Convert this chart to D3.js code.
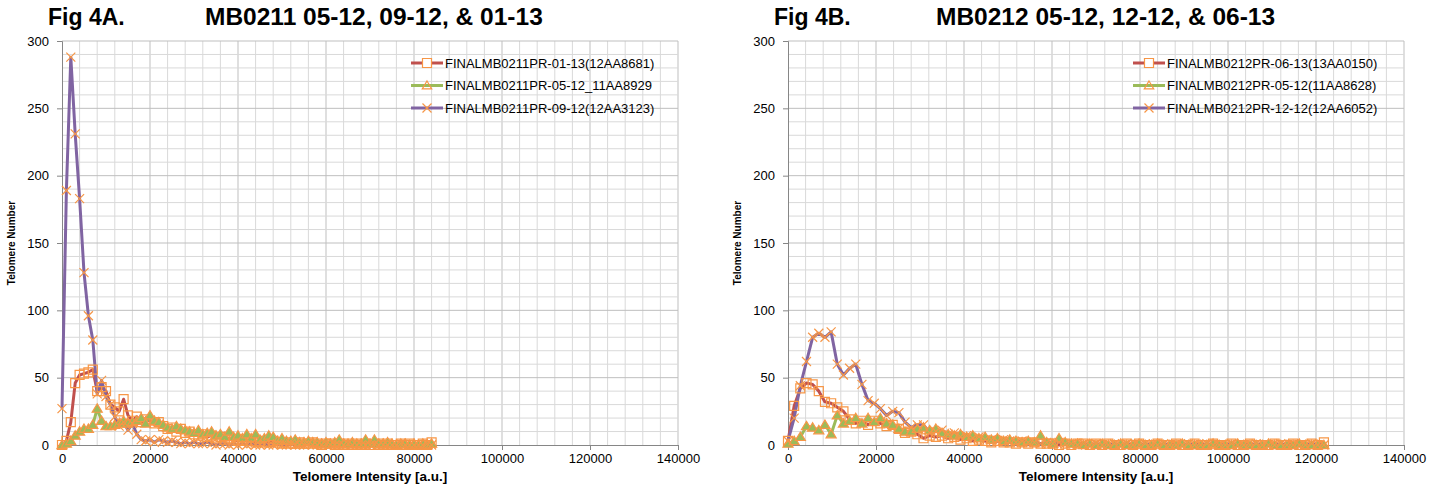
<!DOCTYPE html>
<html>
<head>
<meta charset="utf-8">
<script src="https://cdn.jsdelivr.net/npm/d3@7"></script>
<style>
body { margin: 0; background: #fff; }
svg { display: block; }
text { font-family: "Liberation Sans", Arial, sans-serif; fill: #000; }
</style>
</head>
<body>
<script>
// intensity bins (x) for each figure
var intensityA = [0,1000,2000,3000,4000,5000,6000,7000,8000,9000,10000,11000,12000,13000,14000,15000,16000,17000,18000,19000,20000,21000,22000,23000,24000,25000,26000,27000,28000,29000,30000,31000,32000,33000,34000,35000,36000,37000,38000,39000,40000,41000,42000,43000,44000,45000,46000,47000,48000,49000,50000,51000,52000,53000,54000,55000,56000,57000,58000,59000,60000,61000,62000,63000,64000,65000,66000,67000,68000,69000,70000,71000,72000,73000,74000,75000,76000,77000,78000,79000,80000,81000,82000,83000,84000];
var intensityB = [0,1400,2800,4200,5600,7000,8400,9800,11200,12600,14000,15400,16800,18200,19600,21000,22400,23800,25200,26600,28000,29400,30800,32200,33600,35000,36400,37800,39200,40600,42000,43400,44800,46200,47600,49000,50400,51800,53200,54600,56000,57400,58800,60200,61600,63000,64400,65800,67200,68600,70000,71400,72800,74200,75600,77000,78400,79800,81200,82600,84000,85400,86800,88200,89600,91000,92400,93800,95200,96600,98000,99400,100800,102200,103600,105000,106400,107800,109200,110600,112000,113400,114800,116200,117600,119000,120400,121800];

// Fig 4A series
var mb0211_0113 = [0,3,17,46,52,53,54,56,40,43, 40,30,28,25,34,22,18,21,17,19, 18,16,17,14,12,13,10,12,9,10, 8,7,8,6,7,5,6,4,5,4, 3,4,3,3,2,3,2,2,3,2, 1,2,1,1,2,1,1,2,1,0, 1,1,0,1,0,1,0,1,0,1, 0,0,1,0,1,0,0,1,0,1, 0,0,1,0,2];
var mb0211_0512 = [0,1,3,7,10,12,12,15,27,18, 14,14,15,16,18,16,17,18,20,16, 22,18,17,15,13,12,14,12,11,10, 9,11,8,9,10,7,8,6,10,6, 7,5,8,5,8,4,5,7,6,3, 5,3,3,4,2,2,3,2,2,1, 2,1,2,4,1,1,2,1,1,4, 1,4,1,1,2,1,0,1,1,0, 1,0,1,0,1];
var mb0211_0912 = [27,189,288,231,183,128,96,78,38,48, 36,30,21,14,17,11,16,8,4,3, 4,2,4,3,2,3,2,1,2,1, 2,1,1,2,1,0,1,1,0,1, 0,1,0,1,0,0,1,0,0,1, 0,0,1,0,0,0,1,0,0,0, 1,0,0,0,0,1,0,0,0,0, 0,1,0,0,0,0,0,1,0,0, 0,0,0,1,0];

// Fig 4B series
var mb0212_0613 = [3,29,42,46,45,40,32,31,28,25, 19,16,18,15,18,16,14,15,12,9, 10,8,5,7,6,7,5,6,4,5, 3,4,3,2,3,2,2,1,2,1, 2,1,1,1,0,1,0,1,1,0, 1,0,1,0,0,1,0,1,0,0, 1,0,0,1,0,0,1,0,0,1, 0,0,1,0,0,1,0,0,0,1, 0,0,1,0,0,1,0,2];
var mb0212_0512 = [1,3,6,14,13,11,15,8,22,16, 18,20,16,20,17,20,16,15,12,10, 10,12,13,11,12,9,8,7,8,6, 7,5,6,4,5,3,4,3,2,3, 2,7,2,1,5,2,1,1,0,1, 0,1,0,0,1,0,0,1,0,0, 1,0,0,0,1,0,0,0,0,1, 0,0,0,1,0,0,0,0,1,0, 0,0,0,1,0,0,0,0];
var mb0212_1212 = [3,20,44,62,80,83,80,84,60,52, 57,60,45,33,31,27,22,25,24,17, 13,15,15,9,10,11,8,9,6,7, 5,6,4,4,3,4,3,2,3,2, 2,1,2,1,2,1,1,0,1,0, 1,0,0,1,0,1,0,0,1,0, 0,1,0,0,0,1,0,0,1,0, 0,0,1,0,0,0,1,0,0,0, 1,0,0,0,0,1,0,0];

var namesA = ['FINALMB0211PR-01-13(12AA8681)', 'FINALMB0211PR-05-12_11AA8929', 'FINALMB0211PR-09-12(12AA3123)'];
var namesB = ['FINALMB0212PR-06-13(13AA0150)', 'FINALMB0212PR-05-12(11AA8628)', 'FINALMB0212PR-12-12(12AA6052)'];

var xTicks = [0, 20000, 40000, 60000, 80000, 100000, 120000, 140000];
var yTicks = [0, 50, 100, 150, 200, 250, 300];

var lineColors = ['#C0504D', '#9BBB59', '#8064A2'];
var markerTypes = ['square', 'triangle', 'cross'];
var markerColor = '#F79646';

var svg = d3.select('body').append('svg')
    .attr('width', 1441)
    .attr('height', 484);

function markerPath(type, s) {
    if (type === 'triangle') {
        return 'M0,' + (-s) + 'L' + (s * 1.05) + ',' + (s * 0.75) + 'L' + (-s * 1.05) + ',' + (s * 0.75) + 'Z';
    }
    if (type === 'cross') {
        return 'M' + (-s) + ',' + (-s) + 'L' + s + ',' + s + 'M' + (-s) + ',' + s + 'L' + s + ',' + (-s);
    }
    return 'M' + (-s) + ',' + (-s) + 'H' + s + 'V' + s + 'H' + (-s) + 'Z';
}

function drawChart(opt) {
    var g = svg.append('g');

    var x = d3.scaleLinear().domain([0, 140000]).range([opt.left, opt.right]);
    var y = d3.scaleLinear().domain([0, 300]).range([445, 41]);

    // grid
    g.selectAll('.vgrid')
        .data(d3.range(4000, 140001, 4000))
        .enter().append('line')
            .attr('x1', function(d) { return x(d); })
            .attr('x2', function(d) { return x(d); })
            .attr('y1', y(0))
            .attr('y2', y(300))
            .attr('stroke', function(d) { return d % 20000 === 0 ? '#BFBFBF' : '#D9D9D9'; })
            .attr('stroke-width', 1);

    g.selectAll('.hgrid')
        .data(d3.range(10, 301, 10))
        .enter().append('line')
            .attr('x1', x(0))
            .attr('x2', x(140000))
            .attr('y1', function(d) { return y(d); })
            .attr('y2', function(d) { return y(d); })
            .attr('stroke', function(d) { return d % 50 === 0 ? '#BFBFBF' : '#D9D9D9'; })
            .attr('stroke-width', 1);

    // axes
    var xAxis = g.append('g')
        .attr('transform', 'translate(0,' + y(0) + ')')
        .call(d3.axisBottom(x).tickValues(xTicks).tickSize(5).tickPadding(4).tickFormat(d3.format('d')));
    var yAxis = g.append('g')
        .attr('transform', 'translate(' + x(0) + ',0)')
        .call(d3.axisLeft(y).tickValues(yTicks).tickSize(5).tickPadding(8));

    [xAxis, yAxis].forEach(function(a) {
        a.select('.domain').attr('stroke', '#868686');
        a.selectAll('.tick line').attr('stroke', '#868686');
        a.selectAll('.tick text')
            .attr('font-size', 13)
            .attr('font-family', '"Liberation Sans", Arial, sans-serif')
            .attr('fill', '#000');
    });

    // lines first, then markers on top
    var line = d3.line()
        .x(function(d) { return x(d[0]); })
        .y(function(d) { return y(d[1]); });

    var series = opt.series.map(function(vals) {
        return vals.map(function(v, i) { return [opt.xs[i], v]; });
    });

    series.forEach(function(pts, i) {
        g.append('path')
            .datum(pts)
            .attr('d', line)
            .attr('fill', 'none')
            .attr('stroke', lineColors[i])
            .attr('stroke-width', 3)
            .attr('stroke-linejoin', 'round');
    });

    series.forEach(function(pts, i) {
        g.selectAll('.m' + i)
            .data(pts)
            .enter().append('path')
                .attr('transform', function(d) { return 'translate(' + x(d[0]) + ',' + y(d[1]) + ')'; })
                .attr('d', markerPath(markerTypes[i], i === 1 ? 4.8 : 4.5))
                .attr('fill', i === 1 ? lineColors[1] : 'none')
                .attr('stroke', markerColor)
                .attr('stroke-width', 1.2);
    });

    // titles
    svg.append('text')
        .attr('x', opt.figX)
        .attr('y', 25)
        .attr('font-size', 23)
        .attr('font-weight', 'bold')
        .text(opt.fig);
    svg.append('text')
        .attr('x', opt.titleX)
        .attr('y', 25)
        .attr('font-size', 24.5)
        .attr('font-weight', 'bold')
        .text(opt.title);

    svg.append('text')
        .attr('x', (opt.left + opt.right) / 2)
        .attr('y', 481)
        .attr('text-anchor', 'middle')
        .attr('font-size', 13.5)
        .attr('font-weight', 'bold')
        .text('Telomere Intensity [a.u.]');

    svg.append('text')
        .attr('transform', 'translate(' + (opt.left - 47) + ',243) rotate(-90)')
        .attr('text-anchor', 'middle')
        .attr('font-size', 10)
        .attr('font-weight', 'bold')
        .text('Telomere Number');

    // legend
    opt.names.forEach(function(name, i) {
        var ly = 63 + i * 22.5;
        var lx = opt.legendX;
        g.append('line')
            .attr('x1', lx)
            .attr('x2', lx + 32)
            .attr('y1', ly)
            .attr('y2', ly)
            .attr('stroke', lineColors[i])
            .attr('stroke-width', 3);
        g.append('path')
            .attr('transform', 'translate(' + (lx + 16) + ',' + ly + ')')
            .attr('d', markerPath(markerTypes[i], 4.5))
            .attr('fill', i === 0 ? '#fff' : 'none')
            .attr('stroke', markerColor)
            .attr('stroke-width', 1.2);
        g.append('text')
            .attr('x', lx + 34)
            .attr('y', ly + 4.5)
            .attr('font-size', 13)
            .attr('fill', '#000')
            .text(name);
    });
}

drawChart({
    left: 62, right: 678,
    fig: 'Fig 4A.', figX: 48,
    title: 'MB0211 05-12, 09-12, & 01-13', titleX: 205,
    legendX: 411,
    names: namesA,
    xs: intensityA,
    series: [mb0211_0113, mb0211_0512, mb0211_0912]
});

drawChart({
    left: 788, right: 1404,
    fig: 'Fig 4B.', figX: 774,
    title: 'MB0212 05-12, 12-12, & 06-13', titleX: 936,
    legendX: 1133,
    names: namesB,
    xs: intensityB,
    series: [mb0212_0613, mb0212_0512, mb0212_1212]
});
</script>
</body>
</html>
